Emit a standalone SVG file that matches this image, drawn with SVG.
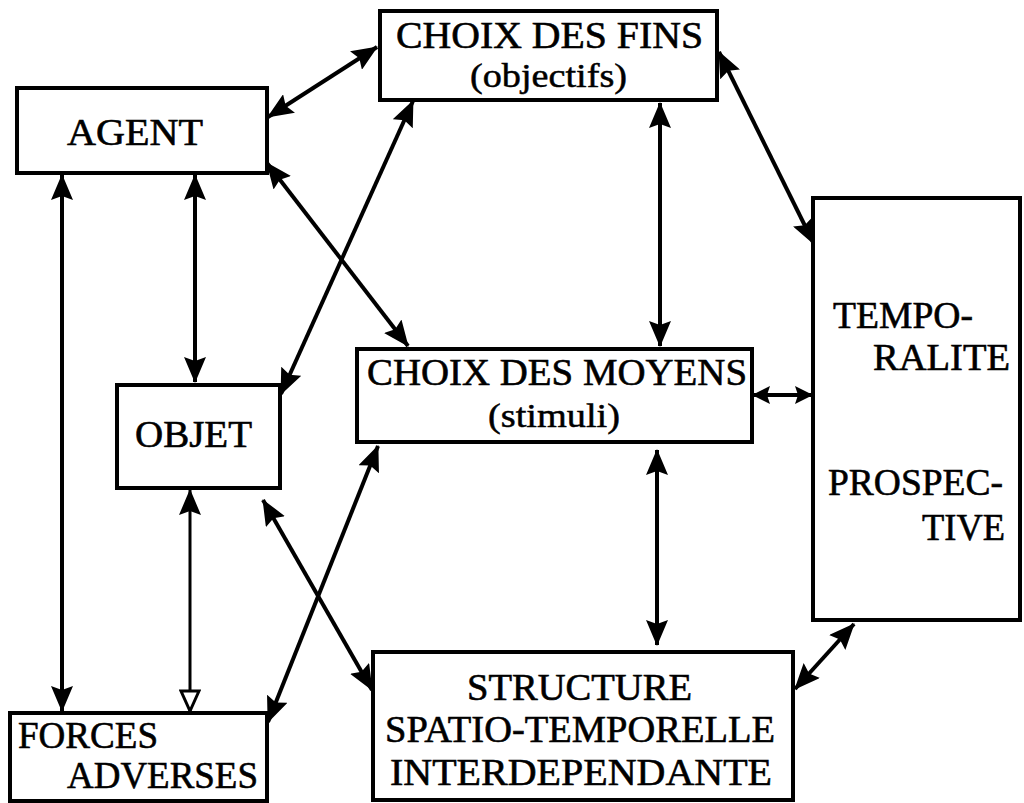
<svg xmlns="http://www.w3.org/2000/svg" width="1024" height="803" viewBox="0 0 1024 803">
<style>
.box{fill:#fff;stroke:#000;stroke-width:4}
.t{font-family:"Liberation Serif","Times New Roman",serif;font-size:38px;fill:#000;stroke:#000;stroke-width:0.6}
.s{font-family:"Liberation Serif","Times New Roman",serif;font-size:34px;fill:#000;stroke:#000;stroke-width:0.5}
.c line{stroke:#000;stroke-width:4;marker-start:url(#ah);marker-end:url(#ah)}
</style>
<defs>
<marker id="ah" markerUnits="userSpaceOnUse" markerWidth="26" markerHeight="22" refX="25" refY="11" orient="auto-start-reverse" viewBox="0 0 26 22">
<path d="M0,0 L26,11 L0,22 L4,11 z" fill="#000"/>
</marker>
<marker id="sm" markerUnits="userSpaceOnUse" markerWidth="18" markerHeight="18" refX="17" refY="9" orient="auto-start-reverse" viewBox="0 0 18 18">
<path d="M0,0 L18,9 L0,18 L3,9 z" fill="#000"/>
</marker>
<marker id="ho" markerUnits="userSpaceOnUse" markerWidth="24" markerHeight="22" refX="22" refY="11" orient="auto" viewBox="0 0 24 22">
<path d="M2,2 L22,11 L2,20 z" fill="#fff" stroke="#000" stroke-width="3"/>
</marker>
</defs>
<rect width="1024" height="803" fill="#fff"/>
<g id="connectors" class="c">
<line x1="268" y1="117" x2="377" y2="47"/>
<line x1="62" y1="175" x2="62" y2="711"/>
<line x1="195" y1="175" x2="195" y2="382"/>
<line x1="267" y1="163" x2="408" y2="346"/>
<line x1="413" y1="101" x2="281" y2="394"/>
<line x1="660" y1="103" x2="660" y2="346"/>
<line x1="719" y1="52" x2="814" y2="244"/>
<line x1="753" y1="395" x2="812" y2="395" style="marker-start:url(#sm);marker-end:url(#sm)"/>
<line x1="190" y1="490" x2="190" y2="711" style="stroke-width:3;marker-end:url(#ho)"/>
<line x1="263" y1="500" x2="372" y2="690"/>
<line x1="378" y1="446" x2="268" y2="722"/>
<line x1="657" y1="450" x2="657" y2="645"/>
<line x1="795" y1="689" x2="854" y2="624"/>
</g>
<g id="agent"><rect class="box" x="17" y="88" width="250" height="85"/><text class="t" x="67" y="145" textLength="136" lengthAdjust="spacingAndGlyphs">AGENT</text></g>
<g id="fins"><rect class="box" x="380" y="11" width="337" height="89"/><text class="t" x="396" y="48" textLength="307" lengthAdjust="spacingAndGlyphs">CHOIX DES FINS</text><text class="s" x="470" y="87" textLength="157" lengthAdjust="spacingAndGlyphs">(objectifs)</text></g>
<g id="objet"><rect class="box" x="117" y="385" width="163" height="103"/><text class="t" x="135" y="447" textLength="117" lengthAdjust="spacingAndGlyphs">OBJET</text></g>
<g id="moyens"><rect class="box" x="357" y="349" width="395" height="93"/><text class="t" x="367" y="385" textLength="380" lengthAdjust="spacingAndGlyphs">CHOIX DES MOYENS</text><text class="s" x="488" y="427" textLength="132" lengthAdjust="spacingAndGlyphs">(stimuli)</text></g>
<g id="temporalite"><rect class="box" x="813" y="198" width="207" height="422"/><text class="t" x="833" y="328" textLength="140" lengthAdjust="spacingAndGlyphs">TEMPO-</text><text class="t" x="873" y="370" textLength="137" lengthAdjust="spacingAndGlyphs">RALITE</text><text class="t" x="828" y="495" textLength="175" lengthAdjust="spacingAndGlyphs">PROSPEC-</text><text class="t" x="922" y="540" textLength="83" lengthAdjust="spacingAndGlyphs">TIVE</text></g>
<g id="forces"><rect class="box" x="10" y="713" width="257" height="88"/><text class="t" x="18" y="748" textLength="140" lengthAdjust="spacingAndGlyphs">FORCES</text><text class="t" x="67" y="788" textLength="191" lengthAdjust="spacingAndGlyphs">ADVERSES</text></g>
<g id="structure"><rect class="box" x="373" y="652" width="420" height="148"/><text class="t" x="467" y="700" textLength="225" lengthAdjust="spacingAndGlyphs">STRUCTURE</text><text class="t" x="385" y="742" textLength="390" lengthAdjust="spacingAndGlyphs">SPATIO-TEMPORELLE</text><text class="t" x="390" y="785" textLength="382" lengthAdjust="spacingAndGlyphs">INTERDEPENDANTE</text></g>
</svg>
